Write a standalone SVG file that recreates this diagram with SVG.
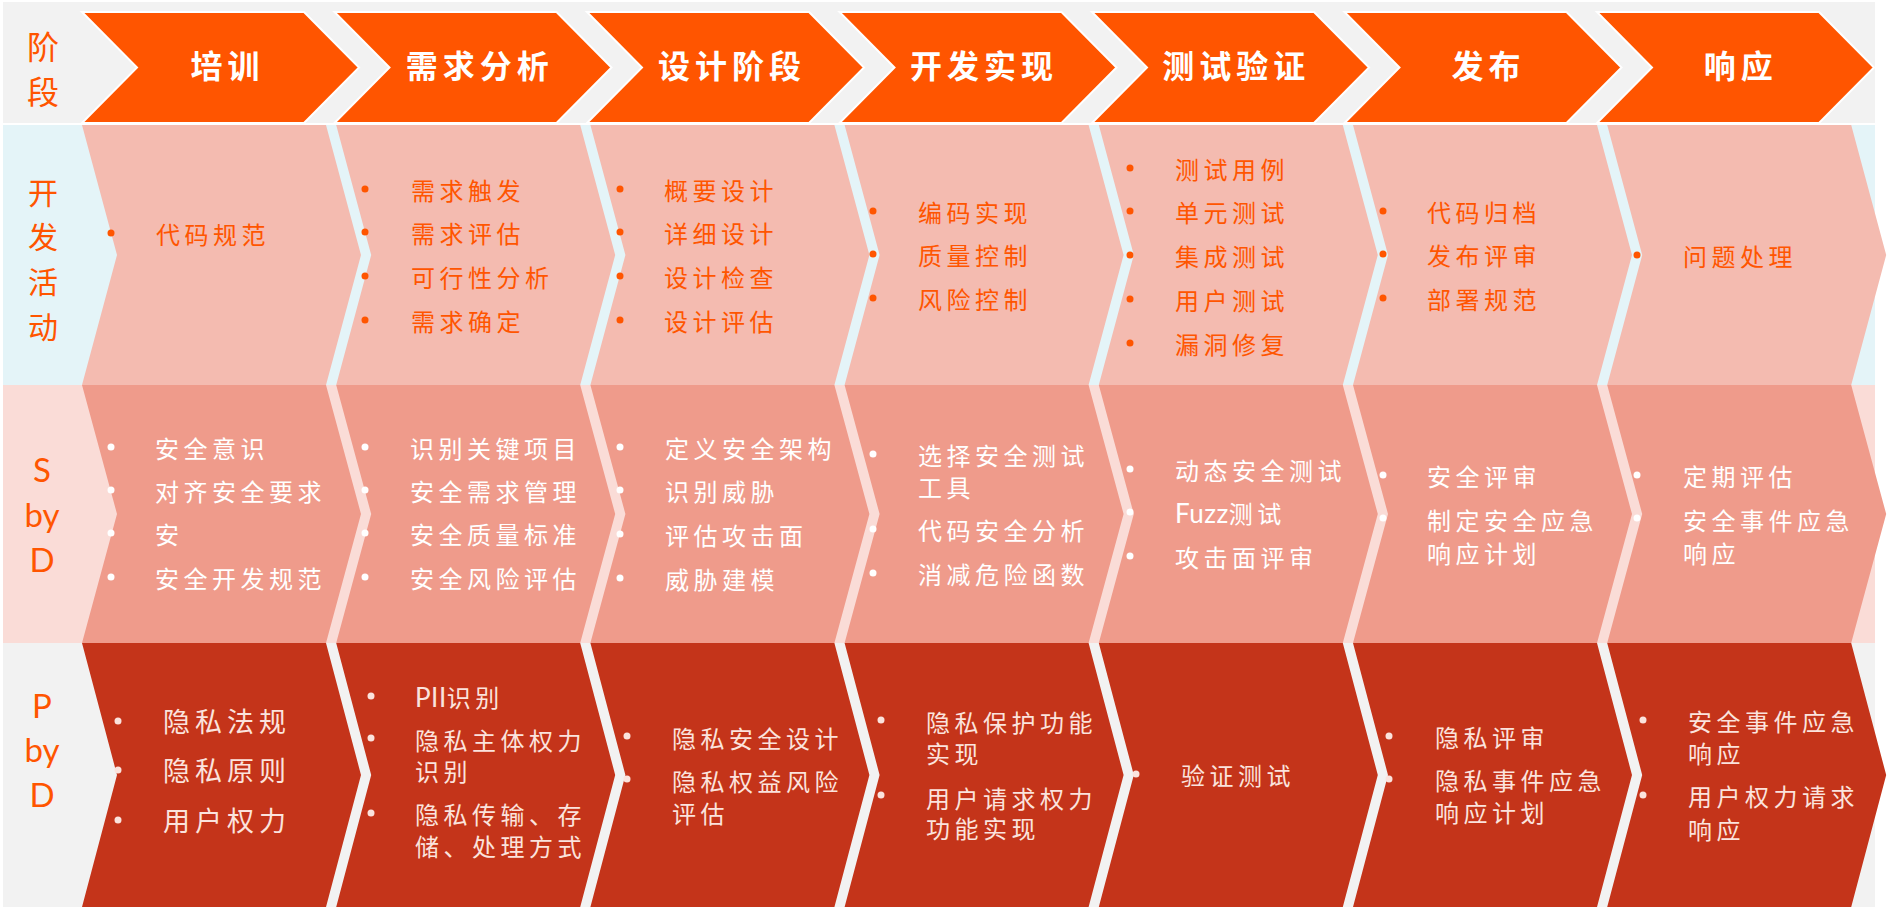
<svg xmlns="http://www.w3.org/2000/svg" xmlns:xlink="http://www.w3.org/1999/xlink" width="1887" height="907" viewBox="0 0 1887 907">
<style>
.cjk{font-family:"Noto Sans CJK SC","Noto Sans CJK JP",sans-serif}
.hdr{fill:#FF5500;stroke:#FFFFFF;stroke-width:2}
.htxt{font-family:"Noto Sans CJK SC",sans-serif;font-size:32px;font-weight:700;fill:#FFFFFF;letter-spacing:5px;text-anchor:middle}
.lab{font-family:"Noto Sans CJK SC",sans-serif;fill:#FF5500;text-anchor:middle}
.labL{font-family:Lato,"Liberation Sans",sans-serif;font-size:33px;fill:#FF5500;text-anchor:middle}
.b{font-family:Lato,"Noto Sans CJK SC",sans-serif;font-size:24px;letter-spacing:4.5px}
.big{font-size:27px;letter-spacing:5px}
.lat{letter-spacing:0.5px;font-size:26px}
.c2{fill:#F4BBB0}.c3{fill:#EF9B8B}.c4{fill:#C4341A}
.t2{fill:#FF5500}.t3{fill:#FFFFFF}.t4{fill:#FBE3DD}
</style>
<defs>
<path id="hch" d="M82,12 H304 L359,67.5 L304,123 H82 L137,67.5 Z"/>
<path id="ch2" d="M82,125 H326 L361,255 L326,385 H82 L117,255 Z"/>
<path id="ch3" d="M82,385 H326 L361,514 L326,643 H82 L117,514 Z"/>
<path id="ch4" d="M82,643 H326 L361,775 L326,907 H82 L117,775 Z"/>
</defs>
<rect width="1887" height="907" fill="#FFFFFF"/>
<g id="bands">
<rect x="3" y="2" width="1872" height="121" fill="#F2F2F2"/>
<rect x="3" y="125" width="1872" height="260" fill="#E4F4F8"/>
<rect x="3" y="385" width="1872" height="258" fill="#FADCD7"/>
<rect x="3" y="643" width="1872" height="264" fill="#F2F2F2"/>
</g>
<g id="labels">
<g id="label-stage"><text class="lab" font-size="32" x="43" y="59">阶</text><text class="lab" font-size="32" x="43" y="104">段</text></g>
<g id="label-dev"><text class="lab" font-size="30" x="43" y="204">开</text><text class="lab" font-size="30" x="43" y="248">发</text><text class="lab" font-size="30" x="43" y="293">活</text><text class="lab" font-size="30" x="43" y="338">动</text></g>
<g id="label-sbd"><text class="labL" x="42" y="482">S</text><text class="labL" x="42" y="527">by</text><text class="labL" x="42" y="572">D</text></g>
<g id="label-pbd"><text class="labL" x="42" y="718">P</text><text class="labL" x="42" y="762">by</text><text class="labL" x="42" y="807">D</text></g>
</g>
<g id="header">
<g id="h1"><use xlink:href="#hch" class="hdr"/><text class="htxt" x="227.5" y="78">培训</text></g>
<g id="h2"><use xlink:href="#hch" class="hdr" x="252.5"/><text class="htxt" x="479.7" y="78">需求分析</text></g>
<g id="h3"><use xlink:href="#hch" class="hdr" x="505"/><text class="htxt" x="731.9" y="78">设计阶段</text></g>
<g id="h4"><use xlink:href="#hch" class="hdr" x="757.5"/><text class="htxt" x="984.1" y="78">开发实现</text></g>
<g id="h5"><use xlink:href="#hch" class="hdr" x="1010"/><text class="htxt" x="1236.3" y="78">测试验证</text></g>
<g id="h6"><use xlink:href="#hch" class="hdr" x="1262.5"/><text class="htxt" x="1488.5" y="78">发布</text></g>
<g id="h7"><use xlink:href="#hch" class="hdr" x="1515"/><text class="htxt" x="1740.7" y="78">响应</text></g>
</g>
<g id="row-dev">
<g id="dev-1"><use xlink:href="#ch2" class="c2"/>
<circle class="t2" cx="111" cy="233" r="3.5"/><text class="b t2" x="156" y="244">代码规范</text></g>
<g id="dev-2"><use xlink:href="#ch2" class="c2" x="254.2"/>
<circle class="t2" cx="365" cy="189" r="3.5"/><circle class="t2" cx="365" cy="232" r="3.5"/><circle class="t2" cx="365" cy="276" r="3.5"/><circle class="t2" cx="365" cy="320" r="3.5"/>
<text class="b t2" x="411" y="200">需求触发</text><text class="b t2" x="411" y="243">需求评估</text><text class="b t2" x="411" y="287">可行性分析</text><text class="b t2" x="411" y="331">需求确定</text></g>
<g id="dev-3"><use xlink:href="#ch2" class="c2" x="508.4"/>
<circle class="t2" cx="620" cy="189" r="3.5"/><circle class="t2" cx="620" cy="232" r="3.5"/><circle class="t2" cx="620" cy="276" r="3.5"/><circle class="t2" cx="620" cy="320" r="3.5"/>
<text class="b t2" x="664" y="200">概要设计</text><text class="b t2" x="664" y="243">详细设计</text><text class="b t2" x="664" y="287">设计检查</text><text class="b t2" x="664" y="331">设计评估</text></g>
<g id="dev-4"><use xlink:href="#ch2" class="c2" x="762.6"/>
<circle class="t2" cx="873" cy="211" r="3.5"/><circle class="t2" cx="873" cy="254" r="3.5"/><circle class="t2" cx="873" cy="298" r="3.5"/>
<text class="b t2" x="918" y="222">编码实现</text><text class="b t2" x="918" y="265">质量控制</text><text class="b t2" x="918" y="309">风险控制</text></g>
<g id="dev-5"><use xlink:href="#ch2" class="c2" x="1016.8"/>
<circle class="t2" cx="1130" cy="168" r="3.5"/><circle class="t2" cx="1130" cy="211" r="3.5"/><circle class="t2" cx="1130" cy="255" r="3.5"/><circle class="t2" cx="1130" cy="299" r="3.5"/><circle class="t2" cx="1130" cy="343" r="3.5"/>
<text class="b t2" x="1175" y="179">测试用例</text><text class="b t2" x="1175" y="222">单元测试</text><text class="b t2" x="1175" y="266">集成测试</text><text class="b t2" x="1175" y="310">用户测试</text><text class="b t2" x="1175" y="354">漏洞修复</text></g>
<g id="dev-6"><use xlink:href="#ch2" class="c2" x="1271"/>
<circle class="t2" cx="1383" cy="211" r="3.5"/><circle class="t2" cx="1383" cy="254" r="3.5"/><circle class="t2" cx="1383" cy="298" r="3.5"/>
<text class="b t2" x="1427" y="222">代码归档</text><text class="b t2" x="1427" y="265">发布评审</text><text class="b t2" x="1427" y="309">部署规范</text></g>
<g id="dev-7"><use xlink:href="#ch2" class="c2" x="1525.2"/>
<circle class="t2" cx="1637" cy="255" r="3.5"/><text class="b t2" x="1683" y="266">问题处理</text></g>
</g>
<g id="row-sbd">
<g id="sbd-1"><use xlink:href="#ch3" class="c3"/>
<circle class="t3" cx="111" cy="447" r="3.5"/><circle class="t3" cx="111" cy="490" r="3.5"/><circle class="t3" cx="111" cy="533" r="3.5"/><circle class="t3" cx="111" cy="577" r="3.5"/>
<text class="b t3" x="155" y="458">安全意识</text><text class="b t3" x="155" y="501">对齐安全要求</text><text class="b t3" x="155" y="544">安</text><text class="b t3" x="155" y="588">安全开发规范</text></g>
<g id="sbd-2"><use xlink:href="#ch3" class="c3" x="254.2"/>
<circle class="t3" cx="365" cy="447" r="3.5"/><circle class="t3" cx="365" cy="490" r="3.5"/><circle class="t3" cx="365" cy="533" r="3.5"/><circle class="t3" cx="365" cy="577" r="3.5"/>
<text class="b t3" x="410" y="458">识别关键项目</text><text class="b t3" x="410" y="501">安全需求管理</text><text class="b t3" x="410" y="544">安全质量标准</text><text class="b t3" x="410" y="588">安全风险评估</text></g>
<g id="sbd-3"><use xlink:href="#ch3" class="c3" x="508.4"/>
<circle class="t3" cx="620" cy="447" r="3.5"/><circle class="t3" cx="620" cy="490" r="3.5"/><circle class="t3" cx="620" cy="534" r="3.5"/><circle class="t3" cx="620" cy="578" r="3.5"/>
<text class="b t3" x="665" y="458">定义安全架构</text><text class="b t3" x="665" y="501">识别威胁</text><text class="b t3" x="665" y="545">评估攻击面</text><text class="b t3" x="665" y="589">威胁建模</text></g>
<g id="sbd-4"><use xlink:href="#ch3" class="c3" x="762.6"/>
<circle class="t3" cx="873" cy="454" r="3.5"/><circle class="t3" cx="873" cy="529" r="3.5"/><circle class="t3" cx="873" cy="573" r="3.5"/>
<text class="b t3" x="918" y="465">选择安全测试</text><text class="b t3" x="918" y="497">工具</text><text class="b t3" x="918" y="540">代码安全分析</text><text class="b t3" x="918" y="584">消减危险函数</text></g>
<g id="sbd-5"><use xlink:href="#ch3" class="c3" x="1016.8"/>
<circle class="t3" cx="1130" cy="469" r="3.5"/><circle class="t3" cx="1130" cy="512" r="3.5"/><circle class="t3" cx="1130" cy="556" r="3.5"/>
<text class="b t3" x="1175" y="480">动态安全测试</text><text class="b t3" x="1175" y="523"><tspan class="lat">Fuzz</tspan>测试</text><text class="b t3" x="1175" y="567">攻击面评审</text></g>
<g id="sbd-6"><use xlink:href="#ch3" class="c3" x="1271"/>
<circle class="t3" cx="1383" cy="475" r="3.5"/><circle class="t3" cx="1383" cy="518" r="3.5"/>
<text class="b t3" x="1427" y="486">安全评审</text><text class="b t3" x="1427" y="530">制定安全应急</text><text class="b t3" x="1427" y="563">响应计划</text></g>
<g id="sbd-7"><use xlink:href="#ch3" class="c3" x="1525.2"/>
<circle class="t3" cx="1637" cy="475" r="3.5"/><circle class="t3" cx="1637" cy="518" r="3.5"/>
<text class="b t3" x="1683" y="486">定期评估</text><text class="b t3" x="1683" y="530">安全事件应急</text><text class="b t3" x="1683" y="563">响应</text></g>
</g>
<g id="row-pbd">
<g id="pbd-1"><use xlink:href="#ch4" class="c4"/>
<circle class="t4" cx="118" cy="721" r="3.5"/><circle class="t4" cx="118" cy="770" r="3.5"/><circle class="t4" cx="118" cy="820" r="3.5"/>
<text class="b big t4" x="163" y="732">隐私法规</text><text class="b big t4" x="163" y="781">隐私原则</text><text class="b big t4" x="163" y="831">用户权力</text></g>
<g id="pbd-2"><use xlink:href="#ch4" class="c4" x="254.2"/>
<circle class="t4" cx="371" cy="696" r="3.5"/><circle class="t4" cx="371" cy="738" r="3.5"/><circle class="t4" cx="371" cy="813" r="3.5"/>
<text class="b t4" x="415" y="707"><tspan class="lat">PII</tspan>识别</text><text class="b t4" x="415" y="750">隐私主体权力</text><text class="b t4" x="415" y="781">识别</text><text class="b t4" x="415" y="824">隐私传输、存</text><text class="b t4" x="415" y="856">储、处理方式</text></g>
<g id="pbd-3"><use xlink:href="#ch4" class="c4" x="508.4"/>
<circle class="t4" cx="627" cy="736" r="3.5"/><circle class="t4" cx="627" cy="779" r="3.5"/>
<text class="b t4" x="672" y="748">隐私安全设计</text><text class="b t4" x="672" y="791">隐私权益风险</text><text class="b t4" x="672" y="823">评估</text></g>
<g id="pbd-4"><use xlink:href="#ch4" class="c4" x="762.6"/>
<circle class="t4" cx="881" cy="720" r="3.5"/><circle class="t4" cx="881" cy="795" r="3.5"/>
<text class="b t4" x="926" y="732">隐私保护功能</text><text class="b t4" x="926" y="763">实现</text><text class="b t4" x="926" y="808">用户请求权力</text><text class="b t4" x="926" y="838">功能实现</text></g>
<g id="pbd-5"><use xlink:href="#ch4" class="c4" x="1016.8"/>
<circle class="t4" cx="1136" cy="774" r="3.5"/><text class="b t4" x="1181" y="785">验证测试</text></g>
<g id="pbd-6"><use xlink:href="#ch4" class="c4" x="1271"/>
<circle class="t4" cx="1389" cy="736" r="3.5"/><circle class="t4" cx="1389" cy="779" r="3.5"/>
<text class="b t4" x="1435" y="747">隐私评审</text><text class="b t4" x="1435" y="790">隐私事件应急</text><text class="b t4" x="1435" y="822">响应计划</text></g>
<g id="pbd-7"><use xlink:href="#ch4" class="c4" x="1525.2"/>
<circle class="t4" cx="1643" cy="720" r="3.5"/><circle class="t4" cx="1643" cy="795" r="3.5"/>
<text class="b t4" x="1688" y="731">安全事件应急</text><text class="b t4" x="1688" y="763">响应</text><text class="b t4" x="1688" y="806">用户权力请求</text><text class="b t4" x="1688" y="839">响应</text></g>
</g>
<g id="connectors"/>
</svg>
